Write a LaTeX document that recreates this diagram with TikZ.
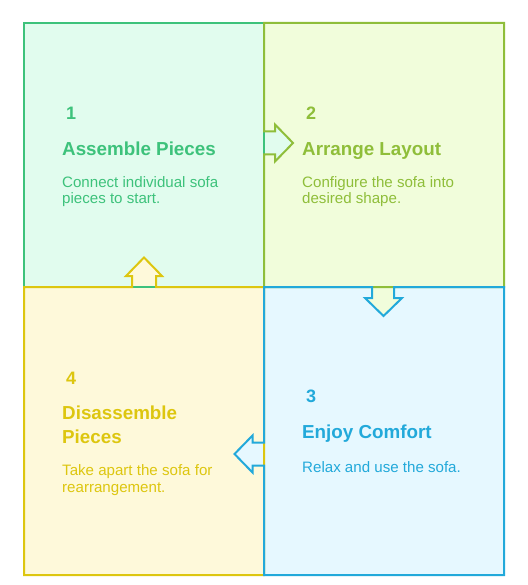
\documentclass[tikz,border=0pt]{standalone}
\usepackage{fontspec}
\setmainfont{Liberation Sans}
\definecolor{gS}{HTML}{3DC27B}\definecolor{gF}{HTML}{E1FCEE}
\definecolor{oS}{HTML}{8FBE3A}\definecolor{oF}{HTML}{F1FDDB}
\definecolor{bS}{HTML}{22A9DA}\definecolor{bF}{HTML}{E6F8FF}
\definecolor{yS}{HTML}{DDC60F}\definecolor{yF}{HTML}{FEF9DA}
\tikzset{
  numtxt/.style={anchor=base west,inner sep=0pt,font=\bfseries\fontsize{18}{22}\selectfont},
  ttltxt/.style={anchor=base west,inner sep=0pt,font=\bfseries\fontsize{18.8}{22}\selectfont},
  bodytxt/.style={anchor=base west,inner sep=0pt,font=\fontsize{15.1}{18}\selectfont},
  edge/.style={line width=2pt,line join=miter}
}
\begin{document}
\begin{tikzpicture}[x=1pt,y=-1pt]
\useasboundingbox (0,0) rectangle (527,585);
% fills
\fill[gF] (24,23) rectangle (264,287);
\fill[oF] (264,23) rectangle (504,287);
\fill[bF] (264,287) rectangle (504,575);
\fill[yF] (24,287) rectangle (264,575);
\fill[gF] (263,131.5) -- (275,131.5) -- (275,124.5) -- (293,143) -- (275,161.5) -- (275,154.5) -- (263,154.5) -- cycle;
\fill[oF] (372,286) -- (372,298) -- (365,298) -- (383.5,316) -- (402,298) -- (394,298) -- (394,286) -- cycle;
\fill[bF] (265,442.5) -- (252.5,442.5) -- (252.5,435.5) -- (234.5,454) -- (252.5,472.5) -- (252.5,465.5) -- (265,465.5) -- cycle;
\fill[yF] (132,288) -- (132,276) -- (126,276) -- (144,257.5) -- (162,276) -- (156,276) -- (156,288) -- cycle;
% strokes
\draw[edge,gS] (24,287) -- (24,23) -- (264,23) -- (264,287) -- cycle;
\draw[edge,oS] (264,287) -- (264,154.5) -- (275,154.5) -- (275,161.5) -- (293,143) -- (275,124.5) -- (275,131.5) -- (264,131.5) -- (264,23) -- (504,23) -- (504,287) -- cycle;
\draw[edge,yS] (24,287) -- (132,287) -- (132,276) -- (126,276) -- (144,257.5) -- (162,276) -- (156,276) -- (156,287) -- (264,287) -- (264,575) -- (24,575) -- cycle;
\draw[edge,bS] (264,287) -- (372,287) -- (372,298) -- (365,298) -- (383.5,316) -- (402,298) -- (394,298) -- (394,287) -- (504,287) -- (504,575) -- (264,575) -- (264,465.5) -- (252.5,465.5) -- (252.5,472.5) -- (234.5,454) -- (252.5,435.5) -- (252.5,442.5) -- (264,442.5) -- cycle;
% texts
\node[numtxt,gS] (n1) at (66,120) {1};
\node[ttltxt,gS] (t1) at (62,156) {Assemble Pieces};
\node[bodytxt,gS] (b1a) at (62,187) {Connect individual sofa};
\node[bodytxt,gS] (b1b) at (62,204) {pieces to start.};
\node[numtxt,oS] (n2) at (306,120) {2};
\node[ttltxt,oS] (t2) at (302,156) {Arrange Layout};
\node[bodytxt,oS] (b2a) at (302,187) {Configure the sofa into};
\node[bodytxt,oS] (b2b) at (302,204) {desired shape.};
\node[numtxt,bS] (n3) at (306,402) {3};
\node[ttltxt,bS] (t3) at (302,438) {Enjoy Comfort};
\node[bodytxt,bS] (b3a) at (302,472) {Relax and use the sofa.};
\node[numtxt,yS] (n4) at (66,384) {4};
\node[ttltxt,yS] (t4a) at (62,419) {Disassemble};
\node[ttltxt,yS] (t4b) at (62,443) {Pieces};
\node[bodytxt,yS] (b4a) at (62,475) {Take apart the sofa for};
\node[bodytxt,yS] (b4b) at (62,492) {rearrangement.};
\end{tikzpicture}
\end{document}
